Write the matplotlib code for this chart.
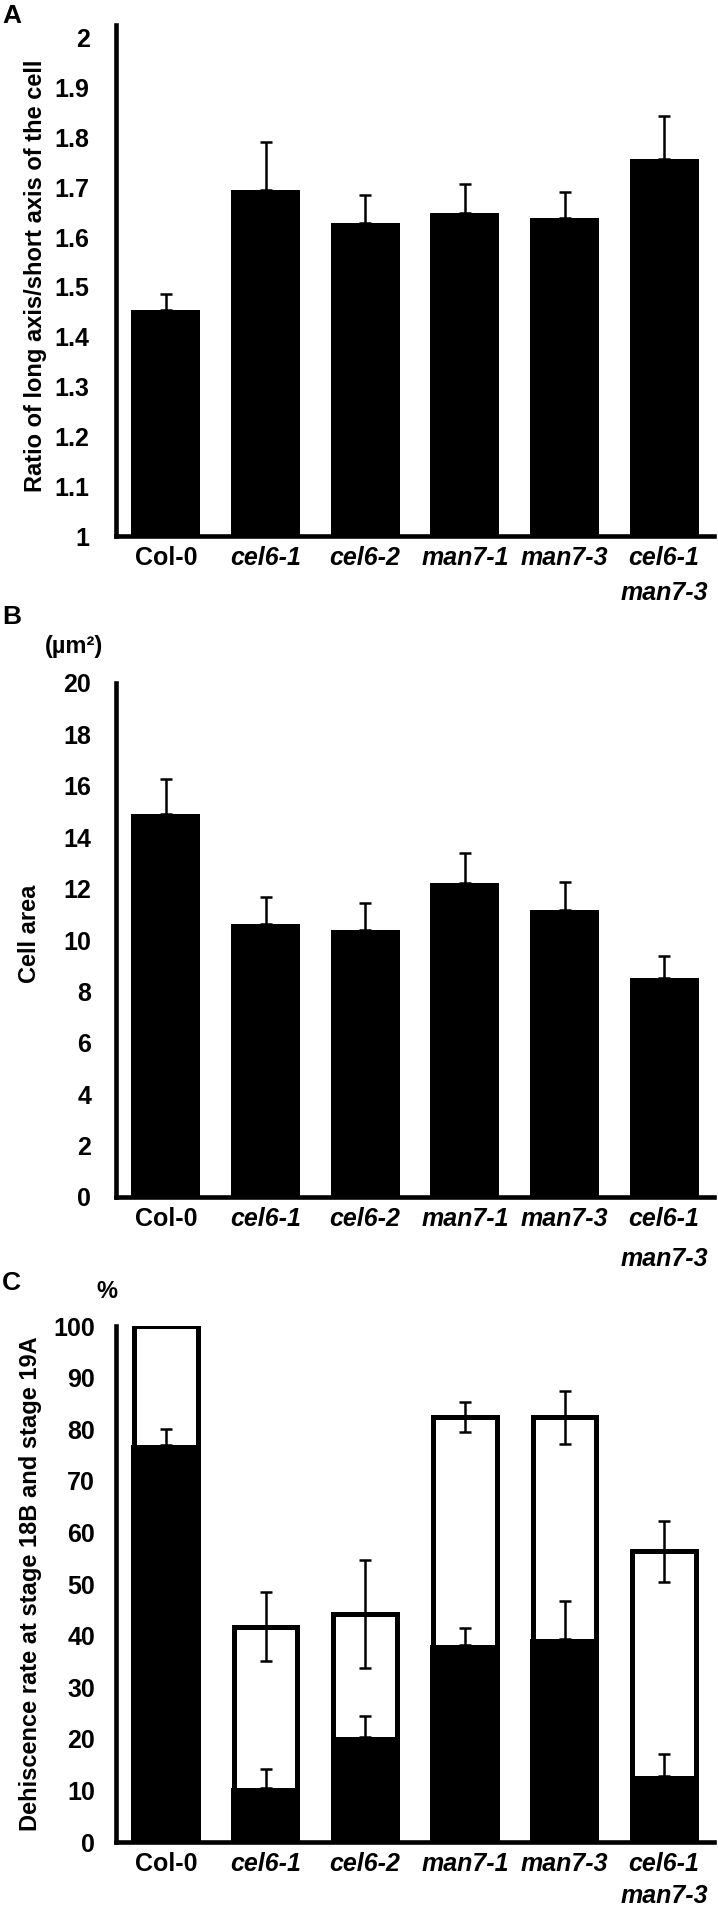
import numpy as np
import matplotlib
matplotlib.use("Agg")
import matplotlib.pyplot as plt

plt.rcParams['font.family'] = ['Liberation Sans', 'DejaVu Sans']
plt.rcParams['font.weight'] = 'bold'

# genotypes on the x axis (shared by all three panels)
genotypes = ['Col-0', 'cel6-1', 'cel6-2', 'man7-1', 'man7-3', 'cel6-1\nman7-3']

# panel A: ratio long axis / short axis
ratio_mean = [1.453, 1.694, 1.628, 1.648, 1.638, 1.756]
ratio_err = [0.032, 0.097, 0.057, 0.059, 0.053, 0.087]
ratio_ticks = [1, 1.1, 1.2, 1.3, 1.4, 1.5, 1.6, 1.7, 1.8, 1.9, 2]
ratio_ticklabels = ['1', '1.1', '1.2', '1.3', '1.4', '1.5', '1.6', '1.7',
                    '1.8', '1.9', '2']

# panel B: cell area (um^2)
area_mean = [14.9, 10.62, 10.37, 12.2, 11.15, 8.52]
area_err = [1.35, 1.05, 1.07, 1.17, 1.1, 0.85]
area_ticks = [0, 2, 4, 6, 8, 10, 12, 14, 16, 18, 20]

# panel C: dehiscence rate (%), total (white) and stage 18B (black)
dehis_total = [100, 41.7, 44.2, 82.3, 82.3, 56.3]
dehis_total_err = [0, 6.7, 10.5, 2.9, 5.2, 5.9]
dehis_early = [77.0, 10.4, 20.4, 38.1, 39.3, 12.8]
dehis_early_err = [3.1, 3.8, 4.0, 3.3, 7.5, 4.2]
dehis_ticks = [0, 10, 20, 30, 40, 50, 60, 70, 80, 90, 100]

W, H = 718, 1912
FS = 17      # axis titles
TFS = 18     # tick labels
fig = plt.figure(figsize=(W / 100, H / 100), dpi=100)


def make_axes(left, right, top, bottom):
    return fig.add_axes([left / W, 1 - bottom / H,
                         (right - left) / W, (bottom - top) / H])


def style_axes(ax, ypad, linesp):
    for s in ['top', 'right']:
        ax.spines[s].set_visible(False)
    for s in ['left', 'bottom']:
        ax.spines[s].set_linewidth(3.3)
        ax.spines[s].set_zorder(5)
    ax.set_xlim(-0.5, 5.5)
    ax.set_xticks(range(len(genotypes)))
    ax.set_xticklabels(genotypes, fontsize=TFS, fontweight='bold',
                       linespacing=linesp)
    for i, lab in enumerate(ax.get_xticklabels()):
        if i > 0:
            lab.set_fontstyle('italic')
    ax.tick_params(axis='x', length=0, pad=7)
    ax.tick_params(axis='y', length=0, pad=ypad, labelsize=TFS)
    for lab in ax.get_yticklabels():
        lab.set_fontweight('bold')


x = np.arange(len(genotypes))
err_kw = dict(fmt='none', ecolor='black', elinewidth=1.8, capsize=4,
              capthick=1.8, zorder=4)

# ---- A ----
axA = make_axes(116, 714, 25, 536)
axA.bar(x, np.array(ratio_mean) - 1, bottom=1, width=0.69, color='black')
axA.errorbar(x, ratio_mean, yerr=[np.zeros(6), ratio_err], **err_kw)
axA.set_ylim(1, 2.026)
axA.set_yticks(ratio_ticks)
axA.set_yticklabels(ratio_ticklabels)
style_axes(axA, 19, 1.6)
fig.text(36 / W, 1 - 276 / H, 'Ratio of long axis/short axis of the cell',
         rotation=90, ha='center', va='center', fontsize=FS,
         fontweight='bold')
fig.text(2 / W, 1 - 16 / H, 'A', ha='left', va='center', fontsize=19,
         fontweight='bold')

# ---- B ----
axB = make_axes(116, 714, 683, 1197)
axB.bar(x, area_mean, width=0.69, color='black')
axB.errorbar(x, area_mean, yerr=[np.zeros(6), area_err], **err_kw)
axB.set_ylim(0, 20)
axB.set_yticks(area_ticks)
style_axes(axB, 18, 1.85)
fig.text(29 / W, 1 - 934 / H, 'Cell area', rotation=90, ha='center',
         va='center', fontsize=FS, fontweight='bold')
fig.text(74 / W, 1 - 647 / H, '(\u00b5m\u00b2)', ha='center', va='center',
         fontsize=FS, fontweight='bold')
fig.text(2 / W, 1 - 617 / H, 'B', ha='left', va='center', fontsize=19,
         fontweight='bold')

# ---- C ----
axC = make_axes(116, 714, 1326, 1842)
axC.bar(x, dehis_total, width=0.64, color='white', edgecolor='black',
        linewidth=3.6, zorder=2)
axC.bar(x, dehis_early, width=0.69, color='black', zorder=3)
axC.errorbar(x, dehis_early, yerr=[np.zeros(6), dehis_early_err], **err_kw)
has_err = np.array(dehis_total_err) > 0
axC.errorbar(x[has_err], np.array(dehis_total)[has_err],
             yerr=np.array(dehis_total_err)[has_err], **err_kw)
axC.set_ylim(0, 100)
axC.set_yticks(dehis_ticks)
style_axes(axC, 15, 1.45)
fig.text(31 / W, 1 - 1584 / H, 'Dehiscence rate at stage 18B and stage 19A',
         rotation=90, ha='center', va='center', fontsize=FS,
         fontweight='bold')
fig.text(107 / W, 1 - 1292 / H, '%', ha='center', va='center', fontsize=FS,
         fontweight='bold')
fig.text(2 / W, 1 - 1283 / H, 'C', ha='left', va='center', fontsize=19,
         fontweight='bold')

fig.savefig('out.png', dpi=100)
